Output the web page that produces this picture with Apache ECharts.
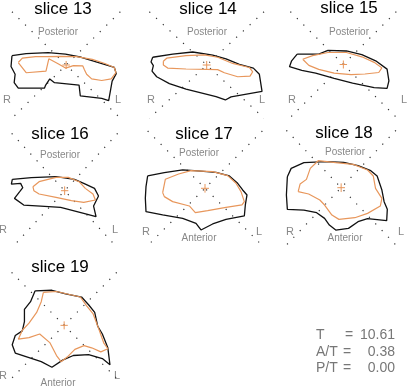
<!DOCTYPE html>
<html>
<head>
<meta charset="utf-8">
<script src="https://cdn.jsdelivr.net/npm/echarts@6/dist/echarts.min.js"></script>
<style>
  html, body { margin: 0; padding: 0; background: #fff; }
  #main { width: 408px; height: 390px; }
</style>
</head>
<body>
<div id="main"></div>
<script>
// slice contours, offsets from the centre mark (1 unit = 1/3 px)
var sliceNames = ['slice 13', 'slice 14', 'slice 15', 'slice 16', 'slice 17', 'slice 18', 'slice 19'];

var outer13 = [[-172,-30],[-127,-37],[-57,-40],[-2,-35],[48,-25],[103,-8],[153,8],[159,28],[146,52],[135,115],[113,108],[45,100],[41,65],[-37,57],[-52,45],[-65,65],[-69,75],[-152,75],[-165,57],[-162,30],[-175,5]];
var inner13 = [[-152,-8],[-139,-22],[-97,-27],[-62,-27],[-17,-28],[33,-27],[83,-18],[123,-5],[153,8],[158,25],[143,45],[113,50],[81,45],[65,30],[58,15],[53,3],[23,2],[-2,10],[-27,-5],[-55,-20],[-64,20],[-127,25]];

var outer14 = [[-162,-25],[-102,-35],[-42,-42],[18,-32],[58,-20],[98,-2],[140,10],[158,30],[166,85],[73,103],[56,113],[28,102],[-62,78],[-112,60],[-150,38],[-164,20],[-160,2],[-167,-10]];
var inner14 = [[-130,-12],[-120,-22],[-62,-30],[-7,-33],[33,-25],[78,-5],[128,8],[138,22],[130,36],[93,38],[53,25],[33,15],[-62,13],[-117,10],[-130,0]];

var outer15 = [[-150,-34],[-80,-34],[-50,-46],[10,-44],[60,-32],[105,-12],[142,15],[148,53],[142,78],[100,75],[30,61],[-30,45],[-90,28],[-135,19],[-175,7],[-168,-12]];
var inner15 = [[-132,-17],[-100,-29],[-50,-39],[10,-39],[60,-25],[100,-7],[125,11],[115,26],[70,31],[25,33],[-30,28],[-80,16],[-112,3]];

var outer16 = [[-170,-34],[-108,-39],[-28,-42],[32,-34],[62,-22],[97,-7],[110,16],[94,46],[102,78],[62,68],[-13,50],[-78,46],[-133,43],[-163,23],[-146,3],[-136,-9],[-143,-22],[-173,-20]];
var inner16 = [[-103,-12],[-83,-27],[-28,-40],[12,-40],[47,-27],[67,-7],[92,10],[100,28],[62,35],[22,30],[-28,20],[-83,10],[-100,0]];

var outer17 = [[-172,-37],[-122,-47],[-67,-55],[-32,-53],[33,-48],[73,-37],[98,-15],[113,5],[126,20],[121,50],[118,83],[63,93],[23,107],[-12,125],[-27,105],[-67,90],[-127,80],[-177,70],[-179,30],[-177,-5]];
var inner17 = [[-127,13],[-119,-27],[-79,-43],[-42,-53],[23,-50],[68,-38],[93,-15],[108,10],[118,40],[111,50],[63,57],[8,67],[-29,73],[-47,53],[-97,40],[-122,25]];

var outer18 = [[-169,-33],[-157,-58],[-117,-75],[-47,-78],[8,-76],[53,-66],[93,-51],[113,-35],[128,7],[135,42],[145,65],[143,99],[83,93],[53,102],[23,122],[-17,127],[-37,112],[-52,92],[-77,75],[-117,67],[-169,65],[-172,22]];
var inner18 = [[-135,12],[-129,-11],[-109,-25],[-97,-58],[-72,-81],[-17,-75],[38,-70],[83,-53],[101,-35],[108,2],[128,32],[123,55],[83,77],[43,90],[-7,95],[-29,82],[-52,52],[-67,37],[-102,19]];

var outer19 = [[-95,-112],[-40,-114],[5,-102],[57,-92],[80,-67],[100,-42],[110,3],[125,28],[143,73],[150,128],[125,108],[80,95],[30,98],[-5,113],[-40,136],[-75,118],[-120,103],[-160,90],[-170,63],[-160,33],[-137,18],[-130,-12],[-130,-52],[-110,-77]];
var inner19 = [[-68,-107],[-25,-110],[53,-92],[73,-64],[95,-37],[115,16],[130,58],[143,76],[120,86],[90,73],[65,66],[35,78],[10,103],[-10,118],[-25,98],[-47,56],[-80,28],[-115,40],[-150,45],[-137,16],[-115,-7],[-90,-42],[-75,-77]];

var outers = [outer13, outer14, outer15, outer16, outer17, outer18, outer19];
var inners = [inner13, inner14, inner15, inner16, inner17, inner18, inner19];

var statLabels = ['T', 'A/T', 'P/T'];
var statValues = ['10.61', '0.38', '0.00'];

// layout: pixel centre of each panel and its text positions
var centers = [[62.3,60],[206.7,60],[348.7,59],[59.3,190.7],[205,188.3],[344.3,187.7],[58.3,330.7]];
var titlePos = [[63,9],[208,9],[349,8],[60,134],[204,134],[344,133],[60,267]];
var postPos = [[58,32],[207,32],[349,32],[60,155],[199,153],[345,152],null];
var antPos = [null,null,null,null,[199,238],[345,238],[58,383]];
var rPos = [[7,100],[151,100],[292,100],[3,230],[146,232],[290,232],[3,376]];
var lPos = [[118,100],[262,100],[404,100],[115,230],[259,232],[401,232],[117,376]];

var HALF = 70;   // px
var RANGE = 210; // units
var DIAG = 172;

var orange = '#e8975c';
var grids = [], xAxes = [], yAxes = [], series = [], texts = [];

function close(pts) { return pts.concat([pts[0]]); }

function line(i, data, color, width, type) {
  series.push({
    type: 'line', xAxisIndex: i, yAxisIndex: i, data: data,
    showSymbol: false, silent: true, animation: false,
    lineStyle: { color: color, width: width, type: type || 'solid' }
  });
}

function label(pos, str, size, color) {
  if (!pos) return;
  texts.push({
    type: 'text', x: pos[0], y: pos[1], silent: true,
    style: { text: str, fill: color, font: size + 'px "Liberation Sans", Arial, sans-serif',
      align: 'center', verticalAlign: 'middle' }
  });
}

for (var i = 0; i < sliceNames.length; i++) {
  var c = centers[i];
  grids.push({ left: c[0] - HALF, top: c[1] - HALF, width: HALF * 2, height: HALF * 2 });
  xAxes.push({ type: 'value', gridIndex: i, min: -RANGE, max: RANGE, show: false });
  yAxes.push({ type: 'value', gridIndex: i, min: -RANGE, max: RANGE, inverse: true, show: false });

  line(i, [[-DIAG, -DIAG], [DIAG, DIAG]], '#333', 1.2, [1.2, 8]);
  line(i, [[DIAG, -DIAG], [-DIAG, DIAG]], '#333', 1.2, [1.2, 8]);
  line(i, close(outers[i]), '#111', 1.3);
  line(i, close(inners[i]), orange, 1.2);
  line(i, [[-12, 0], [12, 0]], orange, 1);
  line(i, [[0, -13], [0, 13]], orange, 1);

  label(titlePos[i], sliceNames[i], 17, '#000');
  label(postPos[i], 'Posterior', 10, '#888');
  label(antPos[i], 'Anterior', 10, '#888');
  label(rPos[i], 'R', 11, '#888');
  label(lPos[i], 'L', 11, '#888');
}

var statY = [335, 352, 368];
var eqX = [349, 347, 347];
for (var k = 0; k < statLabels.length; k++) {
  var f = '14px "Liberation Sans", Arial, sans-serif';
  texts.push({ type: 'text', x: 316, y: statY[k], silent: true,
    style: { text: statLabels[k], fill: '#777', font: f, align: 'left', verticalAlign: 'middle' } });
  texts.push({ type: 'text', x: eqX[k], y: statY[k], silent: true,
    style: { text: '=', fill: '#777', font: f, align: 'center', verticalAlign: 'middle' } });
  texts.push({ type: 'text', x: 395, y: statY[k], silent: true,
    style: { text: statValues[k], fill: '#777', font: f, align: 'right', verticalAlign: 'middle' } });
}

var chart = echarts.init(document.getElementById('main'), null, { renderer: 'canvas' });
chart.setOption({
  backgroundColor: '#fff',
  animation: false,
  grid: grids,
  xAxis: xAxes,
  yAxis: yAxes,
  series: series,
  graphic: texts
});
</script>
</body>
</html>
